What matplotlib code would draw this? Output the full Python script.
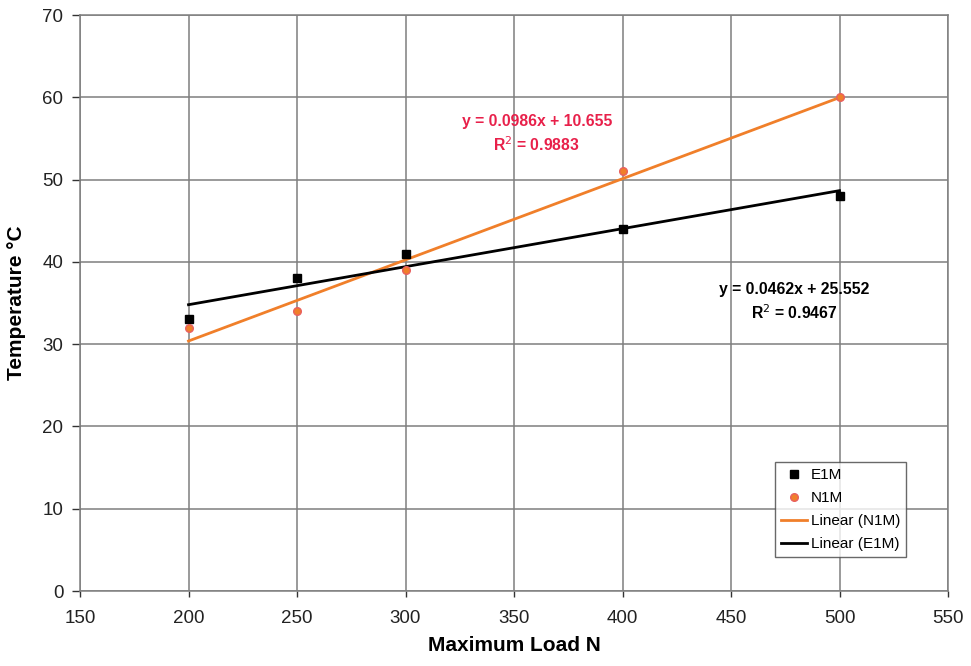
import matplotlib
matplotlib.use('Agg')
import matplotlib.pyplot as plt
import numpy as np

plt.rcParams['font.family'] = ['Liberation Sans', 'DejaVu Sans']

load = [200, 250, 300, 400, 500]
e1m = [33, 38, 41, 44, 48]
n1m = [32, 34, 39, 51, 60]

orange = '#f07f2a'
red_txt = '#e8204a'
grid_col = '#7f7f7f'

fig = plt.figure(figsize=(9.71, 6.66), dpi=100)
ax = fig.add_axes([80 / 971, 1 - 591 / 666, 868 / 971, 576 / 666])

# markers
ax.plot(load, e1m, 's', color='black', markersize=6, label='E1M', zorder=4)
ax.plot(load, n1m, 'o', color=orange, markeredgecolor='#e86060', markersize=5.5,
        label='N1M', zorder=4)

# linear trend lines (least squares)
xs = np.array([min(load), max(load)])
kn, bn = np.polyfit(load, n1m, 1)
ke, be = np.polyfit(load, e1m, 1)
ax.plot(xs, kn * xs + bn, color=orange, lw=2, label='Linear (N1M)', zorder=3)
ax.plot(xs, ke * xs + be, color='black', lw=2, label='Linear (E1M)', zorder=3)

ax.text(360.5, 57.0, 'y = 0.0986x + 10.655', color=red_txt, fontsize=11.3,
        fontweight='bold', ha='center', va='center')
ax.text(360.5, 54.2, 'R$^2$ = 0.9883', color=red_txt, fontsize=11.3,
        fontweight='bold', ha='center', va='center')
ax.text(479, 36.6, 'y = 0.0462x + 25.552', color='black', fontsize=11.3,
        fontweight='bold', ha='center', va='center', zorder=5)
ax.text(479, 33.8, 'R$^2$ = 0.9467', color='black', fontsize=11.3,
        fontweight='bold', ha='center', va='center', zorder=5)

ax.set_xlim(150, 550)
ax.set_ylim(0, 70)
ax.set_xticks(range(150, 551, 50))
ax.set_yticks(range(0, 71, 10))
ax.grid(True, color=grid_col, lw=1.1)
ax.set_axisbelow(True)
for s in ax.spines.values():
    s.set_color(grid_col)
    s.set_linewidth(1.1)
ax.tick_params(labelsize=13.5, colors='#333333', length=6, width=1, pad=6,
               labelcolor='#222222')
ax.tick_params(axis='x', length=4, pad=10)

ax.set_xlabel('Maximum Load N', fontsize=15, fontweight='bold', labelpad=6)
ax.set_ylabel('Temperature °C', fontsize=15, fontweight='bold', labelpad=12)

leg = ax.legend(loc='lower right', bbox_to_anchor=(906 / 971, 1 - 557 / 666),
                bbox_transform=fig.transFigure, borderaxespad=0, fontsize=11,
                frameon=True, fancybox=False, edgecolor='#444444', borderpad=0.4,
                handlelength=1.75, handletextpad=0.2, labelspacing=0.58)
leg.get_frame().set_linewidth(1.0)

fig.savefig('out.png', dpi=100)
